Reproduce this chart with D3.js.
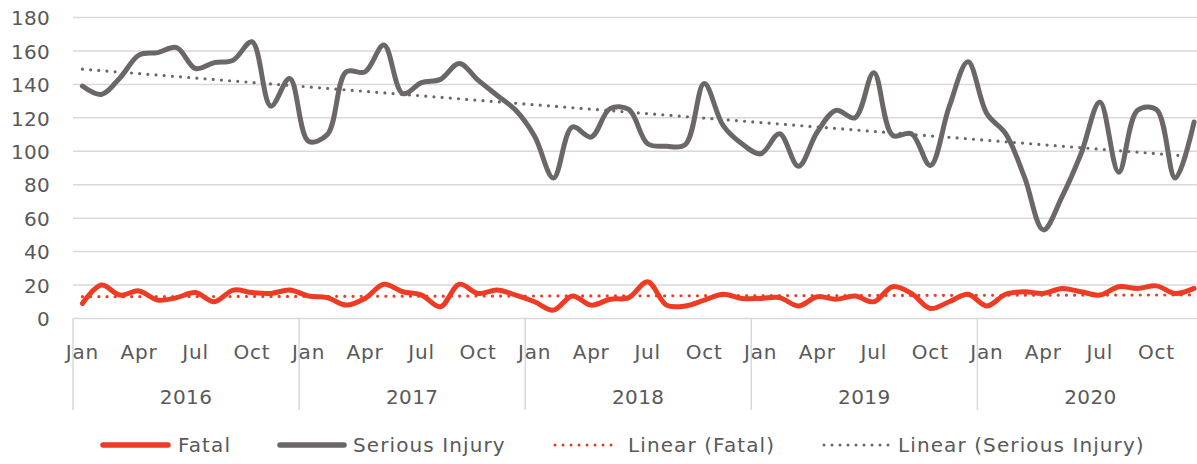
<!DOCTYPE html>
<html><head><meta charset="utf-8">
<script src="https://cdn.jsdelivr.net/npm/d3@7"></script>
<style>
html,body{margin:0;padding:0;background:#fff;}
svg text{font-family:"DejaVu Sans",sans-serif;fill:#595959;}
</style></head>
<body><svg id="c" width="1197" height="464"></svg>
<script>
const years = ["2016","2017","2018","2019","2020"];
const monthNames = ["Jan","Feb","Mar","Apr","May","Jun","Jul","Aug","Sep","Oct","Nov","Dec"];
const monthTickLabels = ["Jan","Apr","Jul","Oct"];
const yTicks = [0,20,40,60,80,100,120,140,160,180];
const seriesNames = ["Fatal","Serious Injury","Linear (Fatal)","Linear (Serious Injury)"];

const fatal = [
  9,20,14,16.5,11,12.5,15.5,10,17,15.5,15,17,
  13.5,12.5,8,12,20.5,16,14,7,20.5,15,17,14,
  10,5,13.5,8,11.5,12.5,22,8,7.5,11,14.5,12,
  12,12.5,7.5,13,11.5,13.5,10,19,15,6,10,14.5,
  7.5,14.5,16,15,18,16,14,19,18,19.5,15,18
];
const serious = [
  139,134,144,157.5,159,162,149.5,153,154.5,165.5,127,143.5,
  106,110,147.5,147.5,163.5,134.5,141,143,152.5,142.5,133.5,124.5,
  109,84,114.5,108.5,125.5,125,104.5,103,104,140.5,115.5,104.5,
  98.5,110.5,91,111.5,124.5,120,147,109.5,110.5,91.5,126.5,153.5,
  122.5,110.5,84.5,53,73,98.5,129.5,87.5,124.5,125,84,117.5
];

const colors = {fatal:"#EE3B24", serious:"#6B6766", grid:"#D9D9D9", text:"#595959"};

const months = [];
years.forEach(y => monthNames.forEach(m => months.push(y + "-" + m)));

const svg = d3.select("#c");
const plotLeft = 73, plotRight = 1203.5, plotTop = 17.5, plotBottom = 318.5;

const x = d3.scaleBand().domain(months).range([plotLeft, plotRight]).paddingInner(0).paddingOuter(0);
const y = d3.scaleLinear().domain([0,180]).range([plotBottom, plotTop]);
const cx = m => x(m) + x.bandwidth()/2;

// gridlines
svg.append("g").selectAll("line").data(yTicks.filter(t=>t>0)).join("line")
  .attr("x1", plotLeft).attr("x2", 1197).attr("y1", d=>y(d)).attr("y2", d=>y(d))
  .attr("stroke", colors.grid).attr("stroke-width", 1.5);
svg.append("line").attr("x1", plotLeft).attr("x2", 1197).attr("y1", y(0)).attr("y2", y(0))
  .attr("stroke", colors.grid).attr("stroke-width", 1.5);

// y labels
const yAxis = d3.axisLeft(y).tickValues(yTicks).tickSize(0).tickPadding(0);
const gy = svg.append("g").attr("transform", `translate(${50},0)`).call(yAxis);
gy.select(".domain").remove();
gy.selectAll("text").style("font-size","20px").style("font-family","DejaVu Sans")
  .style("letter-spacing","0.3px").attr("fill", colors.text).attr("dy","0.36em");

// year separators
const yearBounds = years.map(yr => x(yr + "-Jan"));
svg.append("g").selectAll("line").data(yearBounds).join("line")
  .attr("x1", d=>d).attr("x2", d=>d).attr("y1", y(0)).attr("y2", 410)
  .attr("stroke", colors.grid).attr("stroke-width", 1.5);

// month labels
const monthAxis = d3.axisBottom(x)
  .tickValues(months.filter(m => monthTickLabels.includes(m.split("-")[1])))
  .tickFormat(m => m.split("-")[1]).tickSize(0).tickPadding(0);
const gm = svg.append("g").attr("transform", `translate(0,352)`).call(monthAxis);
gm.select(".domain").remove();
gm.selectAll("text").style("font-size","20px").style("font-family","DejaVu Sans")
  .style("letter-spacing","0.8px").attr("fill", colors.text).attr("dy","0.36em").attr("y",0);

// year labels
svg.append("g").selectAll("text").data(years).join("text")
  .attr("x", yr => x(yr+"-Jan") + x.bandwidth()*6)
  .attr("y", 397).attr("dy","0.36em").attr("text-anchor","middle")
  .style("letter-spacing","0.4px").style("font-size","20px").text(d=>d);

// linear regression
function linreg(vals){
  const n = vals.length; const xs = d3.range(1, n+1);
  const mx = d3.mean(xs), my = d3.mean(vals);
  let sxy=0, sxx=0;
  xs.forEach((xi,i)=>{sxy += (xi-mx)*(vals[i]-my); sxx += (xi-mx)*(xi-mx);});
  const b = sxy/sxx, a = my - b*mx;
  return [a + b*1, a + b*n];
}
const fTrend = linreg(fatal), sTrend = linreg(serious);

const line = d3.line().x((d,i)=>cx(months[i])).y(d=>y(d)).curve(d3.curveCatmullRom.alpha(0.5));

const trend = (vals, col) => svg.append("line")
  .attr("x1", cx(months[0])).attr("x2", cx(months[months.length-1]))
  .attr("y1", y(vals[0])).attr("y2", y(vals[1]))
  .attr("stroke", col).attr("stroke-width", 3.2).attr("stroke-linecap","round")
  .attr("stroke-dasharray","0 8.2");

svg.append("path").datum(serious).attr("d", line).attr("fill","none")
  .attr("stroke", colors.serious).attr("stroke-width", 5).attr("stroke-linejoin","round").attr("stroke-linecap","round");
svg.append("path").datum(fatal).attr("d", line).attr("fill","none")
  .attr("stroke", colors.fatal).attr("stroke-width", 5).attr("stroke-linejoin","round").attr("stroke-linecap","round");
trend(fTrend, colors.fatal);
trend(sTrend, colors.serious);

// legend
const legend = [
  {name: seriesNames[0], col: colors.fatal, dash: null, x0: 103, x1: 168, tx: 178},
  {name: seriesNames[1], col: colors.serious, dash: null, x0: 280, x1: 344, tx: 353},
  {name: seriesNames[2], col: colors.fatal, dash: "0 8", x0: 555, x1: 619, tx: 628},
  {name: seriesNames[3], col: colors.serious, dash: "0 8", x0: 824, x1: 890, tx: 898}
];
const lg = svg.append("g");
legend.forEach(l => {
  lg.append("line").attr("x1", l.x0).attr("x2", l.x1).attr("y1", 445).attr("y2", 445)
    .attr("stroke", l.col).attr("stroke-width", l.dash ? 3 : 5.5).attr("stroke-linecap","round")
    .attr("stroke-dasharray", l.dash);
  lg.append("text").attr("x", l.tx).attr("y", 445).attr("dy","0.36em")
    .style("font-size","20px").style("letter-spacing","1.1px").text(l.name);
});
</script></body></html>
